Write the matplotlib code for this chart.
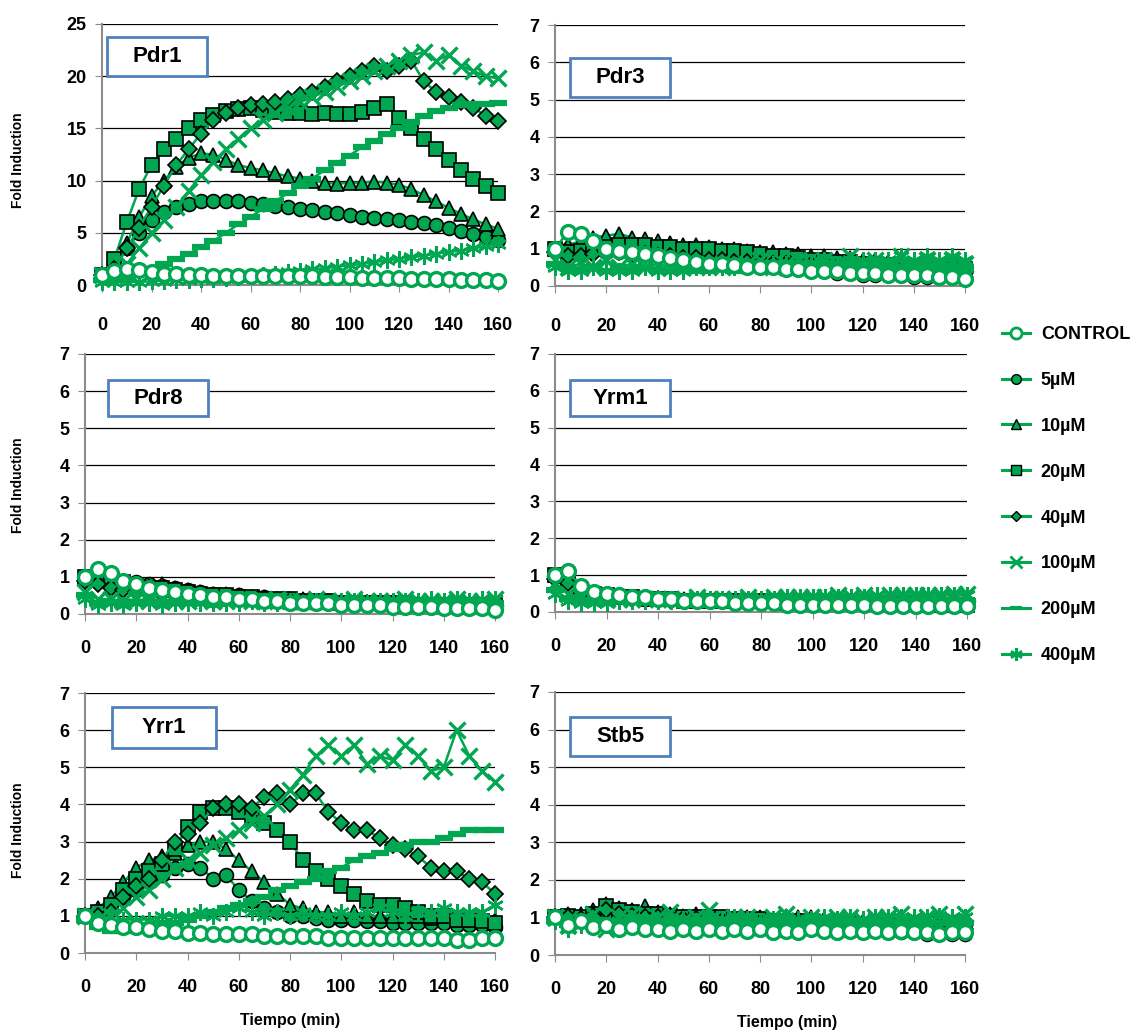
import matplotlib.pyplot as plt
from matplotlib.lines import Line2D
from matplotlib.patches import Rectangle

plt.rcParams['font.family'] = ['Liberation Sans', 'DejaVu Sans']
plt.rcParams['font.weight'] = 'bold'

# sampled every 5 min
time = list(range(0, 161, 5))
labels = ['CONTROL', '5µM', '10µM', '20µM', '40µM', '100µM', '200µM', '400µM']

# ---- Pdr1 ----
pdr1_control = [1.0, 1.3, 1.5, 1.4, 1.2, 1.1, 1.1, 1.0, 1.0, 0.9, 0.9, 0.9, 0.9, 0.9, 0.9, 0.9, 0.9,
                0.9, 0.8, 0.8, 0.8, 0.7, 0.7, 0.7, 0.7, 0.6, 0.6, 0.6, 0.6, 0.5, 0.5, 0.5, 0.4]
pdr1_5 = [1.0, 2.0, 3.5, 5.0, 6.2, 7.0, 7.5, 7.8, 8.0, 8.0, 8.0, 8.0, 7.9, 7.8, 7.6, 7.5, 7.3,
          7.2, 7.0, 6.9, 6.7, 6.5, 6.4, 6.3, 6.2, 6.0, 5.9, 5.7, 5.5, 5.2, 4.9, 4.6, 4.3]
pdr1_10 = [1.0, 2.0, 4.0, 6.5, 8.5, 10.0, 11.3, 12.2, 12.6, 12.5, 12.0, 11.5, 11.2, 11.0, 10.7, 10.4, 10.2,
           10.0, 9.8, 9.7, 9.8, 9.8, 9.9, 9.8, 9.6, 9.2, 8.6, 8.0, 7.4, 6.8, 6.3, 5.8, 5.4]
pdr1_20 = [1.0, 2.5, 6.0, 9.2, 11.5, 13.0, 14.0, 15.0, 15.8, 16.3, 16.7, 16.9, 17.0, 16.8, 16.6, 16.5, 16.5,
           16.4, 16.5, 16.4, 16.4, 16.6, 17.0, 17.3, 16.0, 15.0, 14.0, 13.0, 12.0, 11.0, 10.2, 9.5, 8.8]
pdr1_40 = [1.0, 1.5, 3.5, 5.5, 7.5, 9.5, 11.5, 13.0, 14.5, 15.8, 16.5, 17.0, 17.2, 17.3, 17.5, 17.8, 18.2,
           18.5, 19.0, 19.5, 20.0, 20.5, 21.0, 20.5, 21.0, 21.5, 19.5, 18.5, 18.0, 17.5, 17.0, 16.2, 15.7]
pdr1_100 = [1.0, 1.0, 2.0, 3.5, 5.0, 6.2, 7.5, 9.0, 10.5, 11.8, 13.0, 14.0, 15.0, 15.8, 16.5, 17.0, 17.5,
            18.0, 18.5, 19.0, 19.5, 20.0, 20.5, 21.0, 21.5, 22.0, 22.3, 21.5, 22.0, 21.0, 20.5, 20.0, 19.8]
pdr1_200 = [0.5, 0.6, 0.8, 1.1, 1.5, 2.0, 2.5, 3.0, 3.6, 4.2, 5.0, 5.8, 6.5, 7.3, 8.0, 8.8, 9.5,
            10.2, 11.0, 11.7, 12.4, 13.2, 13.8, 14.5, 15.0, 15.6, 16.2, 16.7, 17.0, 17.2, 17.3, 17.3, 17.4]
pdr1_400 = [0.3, 0.3, 0.3, 0.3, 0.35, 0.4, 0.45, 0.5, 0.55, 0.6, 0.7, 0.8, 0.9, 1.0, 1.1, 1.2, 1.35,
            1.5, 1.6, 1.75, 1.9, 2.0, 2.2, 2.35, 2.5, 2.65, 2.8, 3.0, 3.15, 3.3, 3.5, 3.7, 3.9]

# ---- Pdr3 ----
pdr3_control = [1.0, 1.45, 1.4, 1.2, 1.0, 0.95, 0.9, 0.85, 0.8, 0.75, 0.7, 0.65, 0.6, 0.6, 0.55, 0.5, 0.5,
                0.5, 0.45, 0.45, 0.4, 0.4, 0.4, 0.35, 0.35, 0.35, 0.3, 0.3, 0.3, 0.3, 0.25, 0.25, 0.2]
pdr3_5 = [1.0, 1.0, 1.0, 0.95, 0.9, 0.9, 0.85, 0.85, 0.8, 0.75, 0.7, 0.7, 0.65, 0.6, 0.55, 0.55, 0.5,
          0.5, 0.45, 0.45, 0.4, 0.4, 0.35, 0.35, 0.3, 0.3, 0.3, 0.3, 0.25, 0.25, 0.25, 0.25, 0.25]
pdr3_10 = [1.0, 1.1, 1.2, 1.3, 1.35, 1.4, 1.3, 1.25, 1.2, 1.15, 1.1, 1.1, 1.05, 1.0, 1.0, 0.95, 0.9,
           0.9, 0.85, 0.85, 0.8, 0.8, 0.75, 0.75, 0.7, 0.7, 0.65, 0.65, 0.6, 0.6, 0.55, 0.55, 0.5]
pdr3_20 = [1.0, 0.9, 0.95, 1.0, 1.05, 1.1, 1.1, 1.1, 1.05, 1.05, 1.0, 1.0, 1.0, 0.95, 0.95, 0.9, 0.85,
           0.8, 0.8, 0.75, 0.7, 0.7, 0.65, 0.65, 0.6, 0.6, 0.55, 0.55, 0.5, 0.5, 0.5, 0.45, 0.45]
pdr3_40 = [0.9, 0.8, 0.8, 0.85, 0.9, 0.9, 0.85, 0.85, 0.8, 0.8, 0.75, 0.75, 0.7, 0.7, 0.65, 0.65, 0.6,
           0.6, 0.6, 0.55, 0.55, 0.5, 0.5, 0.5, 0.45, 0.45, 0.45, 0.4, 0.4, 0.4, 0.4, 0.35, 0.35]
pdr3_100 = [0.7, 0.5, 0.6, 0.5, 0.7, 0.5, 0.6, 0.5, 0.6, 0.5, 0.6, 0.5, 0.6, 0.5, 0.6, 0.6, 0.7,
            0.5, 0.6, 0.7, 0.6, 0.7, 0.6, 0.8, 0.6, 0.7, 0.6, 0.8, 0.6, 0.7, 0.6, 0.7, 0.6]
pdr3_200 = [0.6, 0.5, 0.4, 0.5, 0.4, 0.5, 0.4, 0.5, 0.4, 0.4, 0.5, 0.4, 0.4, 0.5, 0.4, 0.5, 0.5,
            0.5, 0.4, 0.5, 0.5, 0.5, 0.5, 0.5, 0.5, 0.5, 0.5, 0.5, 0.5, 0.5, 0.5, 0.5, 0.5]
pdr3_400 = [0.5, 0.4, 0.4, 0.5, 0.4, 0.4, 0.4, 0.5, 0.4, 0.4, 0.4, 0.5, 0.5, 0.5, 0.5, 0.5, 0.5,
            0.6, 0.6, 0.6, 0.6, 0.7, 0.6, 0.7, 0.7, 0.7, 0.7, 0.8, 0.7, 0.8, 0.7, 0.8, 0.7]

# ---- Pdr8 ----
pdr8_control = [1.0, 1.2, 1.1, 0.9, 0.8, 0.7, 0.65, 0.6, 0.55, 0.5, 0.45, 0.45, 0.4, 0.4, 0.35, 0.35, 0.3,
                0.3, 0.3, 0.3, 0.25, 0.25, 0.25, 0.25, 0.2, 0.2, 0.2, 0.2, 0.15, 0.15, 0.15, 0.15, 0.1]
pdr8_5 = [1.0, 1.2, 1.05, 0.9, 0.85, 0.8, 0.75, 0.7, 0.65, 0.6, 0.55, 0.5, 0.5, 0.45, 0.45, 0.4, 0.4,
          0.35, 0.35, 0.35, 0.3, 0.3, 0.3, 0.3, 0.3, 0.25, 0.25, 0.25, 0.25, 0.25, 0.25, 0.2, 0.2]
pdr8_10 = [1.0, 1.1, 1.0, 0.9, 0.8, 0.75, 0.8, 0.7, 0.65, 0.6, 0.55, 0.55, 0.5, 0.45, 0.45, 0.4, 0.4,
           0.4, 0.35, 0.35, 0.35, 0.3, 0.3, 0.3, 0.3, 0.3, 0.3, 0.25, 0.25, 0.25, 0.25, 0.25, 0.25]
pdr8_20 = [1.0, 1.0, 0.9, 0.85, 0.75, 0.7, 0.7, 0.65, 0.6, 0.55, 0.5, 0.5, 0.45, 0.45, 0.4, 0.4, 0.4,
           0.35, 0.35, 0.35, 0.3, 0.3, 0.3, 0.3, 0.3, 0.3, 0.25, 0.25, 0.25, 0.25, 0.25, 0.25, 0.25]
pdr8_40 = [0.9, 0.8, 0.7, 0.65, 0.6, 0.55, 0.55, 0.5, 0.5, 0.45, 0.45, 0.4, 0.4, 0.4, 0.35, 0.35, 0.35,
           0.35, 0.3, 0.3, 0.3, 0.3, 0.3, 0.3, 0.3, 0.25, 0.25, 0.25, 0.25, 0.25, 0.25, 0.25, 0.25]
pdr8_100 = [0.6, 0.4, 0.4, 0.35, 0.4, 0.35, 0.4, 0.35, 0.35, 0.4, 0.35, 0.35, 0.4, 0.35, 0.35, 0.4, 0.35,
            0.35, 0.4, 0.35, 0.35, 0.4, 0.35, 0.35, 0.35, 0.4, 0.35, 0.35, 0.35, 0.4, 0.35, 0.35, 0.4]
pdr8_200 = [0.5, 0.3, 0.3, 0.25, 0.3, 0.3, 0.25, 0.3, 0.3, 0.3, 0.25, 0.3, 0.3, 0.3, 0.25, 0.3, 0.3,
            0.3, 0.3, 0.25, 0.3, 0.3, 0.3, 0.3, 0.3, 0.25, 0.3, 0.3, 0.3, 0.3, 0.3, 0.3, 0.3]
pdr8_400 = [0.4, 0.25, 0.3, 0.25, 0.3, 0.3, 0.25, 0.3, 0.3, 0.3, 0.3, 0.3, 0.3, 0.35, 0.3, 0.3, 0.35,
            0.3, 0.35, 0.3, 0.35, 0.35, 0.3, 0.35, 0.35, 0.35, 0.35, 0.4, 0.35, 0.4, 0.35, 0.4, 0.4]

# ---- Yrm1 ----
yrm1_control = [1.0, 1.1, 0.7, 0.55, 0.5, 0.45, 0.4, 0.4, 0.35, 0.35, 0.3, 0.3, 0.3, 0.3, 0.25, 0.25, 0.25,
                0.25, 0.2, 0.2, 0.2, 0.2, 0.2, 0.2, 0.2, 0.15, 0.15, 0.15, 0.15, 0.15, 0.15, 0.15, 0.15]
yrm1_5 = [1.0, 0.9, 0.6, 0.5, 0.45, 0.4, 0.4, 0.35, 0.35, 0.35, 0.3, 0.3, 0.3, 0.3, 0.3, 0.3, 0.25,
          0.25, 0.25, 0.25, 0.25, 0.25, 0.25, 0.25, 0.25, 0.2, 0.2, 0.2, 0.2, 0.2, 0.2, 0.2, 0.2]
yrm1_10 = [1.0, 0.95, 0.6, 0.5, 0.45, 0.45, 0.4, 0.4, 0.35, 0.35, 0.35, 0.35, 0.3, 0.3, 0.3, 0.3, 0.3,
           0.3, 0.3, 0.3, 0.3, 0.25, 0.25, 0.25, 0.25, 0.25, 0.25, 0.25, 0.25, 0.25, 0.25, 0.25, 0.25]
yrm1_20 = [1.0, 0.9, 0.55, 0.5, 0.45, 0.4, 0.4, 0.35, 0.35, 0.35, 0.3, 0.3, 0.3, 0.3, 0.3, 0.3, 0.3,
           0.3, 0.25, 0.25, 0.25, 0.25, 0.25, 0.25, 0.25, 0.25, 0.25, 0.25, 0.25, 0.2, 0.2, 0.2, 0.2]
yrm1_40 = [0.9, 0.8, 0.5, 0.45, 0.4, 0.4, 0.35, 0.35, 0.35, 0.3, 0.3, 0.3, 0.3, 0.3, 0.3, 0.3, 0.3,
           0.3, 0.3, 0.3, 0.3, 0.3, 0.3, 0.3, 0.3, 0.3, 0.3, 0.3, 0.3, 0.3, 0.3, 0.3, 0.3]
yrm1_100 = [0.8, 0.5, 0.4, 0.35, 0.35, 0.35, 0.35, 0.35, 0.35, 0.35, 0.35, 0.4, 0.35, 0.35, 0.35, 0.4, 0.35,
            0.4, 0.4, 0.4, 0.4, 0.4, 0.45, 0.4, 0.45, 0.4, 0.45, 0.45, 0.45, 0.45, 0.45, 0.5, 0.5]
yrm1_200 = [0.6, 0.35, 0.3, 0.3, 0.3, 0.3, 0.3, 0.3, 0.3, 0.3, 0.3, 0.3, 0.3, 0.3, 0.3, 0.3, 0.3,
            0.3, 0.3, 0.3, 0.3, 0.3, 0.3, 0.3, 0.3, 0.3, 0.3, 0.3, 0.3, 0.3, 0.3, 0.3, 0.3]
yrm1_400 = [0.5, 0.3, 0.25, 0.25, 0.25, 0.3, 0.3, 0.3, 0.3, 0.3, 0.3, 0.35, 0.35, 0.35, 0.35, 0.35, 0.35,
            0.35, 0.4, 0.4, 0.4, 0.4, 0.4, 0.4, 0.4, 0.45, 0.45, 0.45, 0.45, 0.45, 0.45, 0.45, 0.45]

# ---- Yrr1 ----
yrr1_control = [1.0, 0.8, 0.75, 0.7, 0.7, 0.65, 0.6, 0.6, 0.55, 0.55, 0.5, 0.5, 0.5, 0.5, 0.45, 0.45, 0.45,
                0.45, 0.45, 0.4, 0.4, 0.4, 0.4, 0.4, 0.4, 0.4, 0.4, 0.4, 0.4, 0.35, 0.35, 0.4, 0.4]
yrr1_5 = [1.0, 1.1, 1.3, 1.5, 1.7, 1.9, 2.1, 2.3, 2.4, 2.3, 2.0, 2.1, 1.7, 1.4, 1.2, 1.1, 1.0,
          1.0, 0.95, 0.9, 0.9, 0.9, 0.85, 0.85, 0.8, 0.8, 0.8, 0.8, 0.8, 0.75, 0.75, 0.75, 0.7]
yrr1_10 = [1.0, 1.2, 1.5, 1.9, 2.3, 2.5, 2.6, 2.7, 2.9, 3.0, 3.0, 2.8, 2.5, 2.2, 1.9, 1.6, 1.3,
           1.2, 1.1, 1.1, 1.0, 1.1, 1.0, 1.0, 1.0, 1.0, 1.0, 0.95, 1.0, 0.9, 0.9, 0.9, 0.9]
yrr1_20 = [1.0, 1.1, 1.3, 1.7, 2.0, 2.2, 2.4, 2.8, 3.4, 3.8, 3.9, 3.9, 3.8, 3.7, 3.5, 3.3, 3.0,
           2.5, 2.2, 2.0, 1.8, 1.6, 1.4, 1.3, 1.3, 1.2, 1.1, 1.0, 1.0, 0.9, 0.9, 0.85, 0.8]
yrr1_40 = [1.0, 1.0, 1.1, 1.5, 1.8, 2.0, 2.5, 3.0, 3.2, 3.5, 3.9, 4.0, 4.0, 3.9, 4.2, 4.3, 4.0,
           4.3, 4.3, 3.8, 3.5, 3.3, 3.3, 3.1, 2.9, 2.8, 2.6, 2.3, 2.2, 2.2, 2.0, 1.9, 1.6]
yrr1_100 = [1.0, 0.9, 1.0, 1.2, 1.5, 1.7, 2.0, 2.3, 2.5, 2.7, 2.9, 3.1, 3.3, 3.5, 3.7, 4.0, 4.4,
            4.8, 5.3, 5.6, 5.3, 5.6, 5.1, 5.3, 5.2, 5.6, 5.3, 4.9, 5.0, 6.0, 5.3, 4.9, 4.6]
yrr1_200 = [0.9, 0.7, 0.6, 0.6, 0.7, 0.7, 0.8, 0.8, 0.9, 1.0, 1.1, 1.2, 1.3, 1.4, 1.5, 1.7, 1.8,
            1.9, 2.0, 2.2, 2.3, 2.5, 2.6, 2.7, 2.8, 2.9, 3.0, 3.0, 3.1, 3.2, 3.3, 3.3, 3.3]
yrr1_400 = [1.0, 0.8, 0.8, 0.9, 0.9, 0.9, 1.0, 1.0, 1.0, 1.1, 1.0, 1.1, 1.2, 1.1, 1.0, 1.1, 1.0,
            1.1, 1.0, 1.0, 1.1, 1.0, 1.1, 1.2, 1.1, 1.0, 1.1, 1.1, 1.2, 1.1, 1.1, 1.1, 1.3]

# ---- Stb5 ----
stb5_control = [1.0, 0.8, 0.9, 0.75, 0.8, 0.7, 0.75, 0.7, 0.7, 0.65, 0.7, 0.65, 0.7, 0.65, 0.7, 0.65, 0.7,
                0.6, 0.65, 0.6, 0.7, 0.65, 0.6, 0.65, 0.6, 0.65, 0.6, 0.65, 0.6, 0.6, 0.55, 0.6, 0.6]
stb5_5 = [1.0, 1.05, 1.0, 1.05, 1.1, 1.0, 1.05, 0.95, 1.0, 0.95, 0.95, 0.9, 0.9, 0.9, 0.85, 0.85, 0.85,
          0.8, 0.8, 0.8, 0.75, 0.75, 0.7, 0.7, 0.7, 0.65, 0.65, 0.6, 0.6, 0.55, 0.55, 0.55, 0.55]
stb5_10 = [1.0, 1.1, 1.1, 1.2, 1.35, 1.25, 1.2, 1.3, 1.15, 1.1, 1.05, 1.1, 1.05, 1.0, 1.0, 1.0, 1.0,
           0.95, 1.05, 1.0, 1.0, 0.95, 0.95, 0.9, 0.9, 0.9, 0.9, 0.85, 0.85, 0.8, 0.8, 0.8, 0.8]
stb5_20 = [1.0, 1.05, 1.0, 1.1, 1.3, 1.2, 1.15, 1.1, 1.1, 1.05, 1.0, 1.0, 1.0, 1.0, 0.95, 0.95, 0.95,
           0.9, 0.9, 0.9, 0.9, 0.85, 0.85, 0.85, 0.8, 0.8, 0.8, 0.8, 0.75, 0.75, 0.75, 0.7, 0.7]
stb5_40 = [1.0, 1.0, 0.95, 1.05, 1.2, 1.1, 1.05, 1.0, 1.0, 1.0, 0.95, 0.95, 0.95, 0.9, 0.9, 0.9, 0.85,
           0.85, 0.85, 0.85, 0.8, 0.8, 0.8, 0.8, 0.75, 0.75, 0.75, 0.75, 0.7, 0.7, 0.7, 0.7, 0.7]
stb5_100 = [1.0, 0.8, 0.9, 1.1, 0.7, 1.0, 1.1, 0.9, 1.0, 1.15, 0.9, 1.0, 1.2, 0.9, 1.0, 1.0, 0.9,
            1.0, 1.1, 0.9, 1.0, 0.9, 1.0, 1.0, 0.9, 1.0, 1.0, 1.1, 0.9, 1.0, 1.1, 0.9, 1.1]
stb5_200 = [0.9, 0.8, 0.85, 0.9, 0.9, 0.85, 0.9, 0.9, 0.85, 0.9, 0.9, 0.9, 0.85, 0.9, 0.85, 0.9, 0.85,
            0.85, 0.9, 0.85, 0.85, 0.85, 0.9, 0.85, 0.85, 0.85, 0.85, 0.85, 0.85, 0.85, 0.85, 0.85, 0.85]
stb5_400 = [0.9, 0.7, 0.8, 0.9, 0.8, 0.9, 0.9, 0.95, 0.9, 0.9, 0.95, 0.9, 0.9, 0.95, 1.0, 0.95, 0.9,
            0.95, 1.0, 0.95, 0.95, 1.0, 0.95, 1.0, 0.95, 1.0, 1.0, 1.0, 1.0, 1.0, 1.05, 1.0, 1.0]

green = '#00A650'
styles = [
    dict(marker='o', mfc='white', mec=green, mew=2.4, ms=10),
    dict(marker='o', mfc=green, mec='black', mew=1.2, ms=10),
    dict(marker='^', mfc=green, mec='black', mew=1.2, ms=10),
    dict(marker='s', mfc=green, mec='black', mew=1.2, ms=9.5),
    dict(marker='D', mfc=green, mec='black', mew=1.2, ms=8.5),
    dict(marker='x', mfc=green, mec=green, mew=2.4, ms=11),
    dict(marker='_', mfc=green, mec=green, mew=4.5, ms=13),
    dict(marker=(6, 2, 0), mfc=green, mec=green, mew=1.8, ms=12),
]
legend_styles = [
    dict(marker='o', mfc='white', mec=green, mew=2, ms=8),
    dict(marker='o', mfc=green, mec='black', mew=1, ms=7),
    dict(marker='^', mfc=green, mec='black', mew=1, ms=7),
    dict(marker='s', mfc=green, mec='black', mew=1, ms=7),
    dict(marker='D', mfc=green, mec='black', mew=1, ms=5.5),
    dict(marker='x', mfc=green, mec=green, mew=2, ms=9),
    dict(marker='_', mfc=green, mec=green, mew=3, ms=9),
    dict(marker=(6, 2, 0), mfc=green, mec=green, mew=1.8, ms=9),
]

W, H = 1138, 1032
fig = plt.figure(figsize=(W / 100, H / 100), dpi=100)

# name, series, ymax, ystep, box (x0, y0, x1, y1), axes (left, top, right, bottom) in px
panels = [
    ('Pdr1', [pdr1_control, pdr1_5, pdr1_10, pdr1_20, pdr1_40, pdr1_100, pdr1_200, pdr1_400], 25, 5,
     (107, 37, 207, 76), (102, 24, 498, 285), 18),
    ('Pdr3', [pdr3_control, pdr3_5, pdr3_10, pdr3_20, pdr3_40, pdr3_100, pdr3_200, pdr3_400], 7, 1,
     (570, 58, 670, 97), (555, 25, 965, 286), 18),
    ('Pdr8', [pdr8_control, pdr8_5, pdr8_10, pdr8_20, pdr8_40, pdr8_100, pdr8_200, pdr8_400], 7, 1,
     (108, 380, 208, 416), (85, 354, 495, 614), 14),
    ('Yrm1', [yrm1_control, yrm1_5, yrm1_10, yrm1_20, yrm1_40, yrm1_100, yrm1_200, yrm1_400], 7, 1,
     (570, 380, 670, 416), (555, 354, 967, 612), 14),
    ('Yrr1', [yrr1_control, yrr1_5, yrr1_10, yrr1_20, yrr1_40, yrr1_100, yrr1_200, yrr1_400], 7, 1,
     (112, 707, 216, 748), (85, 693, 495, 953), 14),
    ('Stb5', [stb5_control, stb5_5, stb5_10, stb5_20, stb5_40, stb5_100, stb5_200, stb5_400], 7, 1,
     (570, 717, 670, 756), (555, 692, 965, 955), 14),
]

for name, series, ymax, ystep, box, pos, xpad in panels:
    l, t, r, b = pos
    ax = fig.add_axes([l / W, 1 - b / H, (r - l) / W, (b - t) / H])
    order = list(range(1, 8)) + [0]
    for k, i in enumerate(order):
        ax.plot(time, series[i], color=green, lw=1.8, clip_on=False, zorder=3 + k, **styles[i])
    ax.set_xlim(0, 160)
    ax.set_ylim(0, ymax)
    ax.set_xticks(range(0, 161, 20))
    ax.set_yticks(range(0, ymax + 1, ystep))
    ax.yaxis.grid(True, color='black', lw=0.9)
    ax.set_axisbelow(True)
    for s in ['top', 'right']:
        ax.spines[s].set_visible(False)
    for s in ['left', 'bottom']:
        ax.spines[s].set_color('#8c8c8c')
        ax.spines[s].set_linewidth(1.5)
    ax.tick_params(axis='x', length=5, color='#8c8c8c', pad=xpad, labelsize=13)
    ax.tick_params(axis='y', length=5, color='#8c8c8c', pad=6, labelsize=13)
    for lab in ax.get_xticklabels() + ax.get_yticklabels():
        lab.set_fontweight('bold')

    x0, y0, x1, y1 = box
    fig.add_artist(Rectangle((x0 / W, 1 - y1 / H), (x1 - x0) / W, (y1 - y0) / H,
                             transform=fig.transFigure, facecolor='white',
                             edgecolor='#4F81BD', lw=2, zorder=20))
    fig.text((x0 + x1) / 2 / W, 1 - (y0 + y1) / 2 / H, name, ha='center', va='center',
             fontsize=16, fontweight='bold', zorder=21)

for yc in [160, 485, 830]:
    fig.text(18 / W, 1 - yc / H, 'Fold Induction', rotation=90, ha='center', va='center',
             fontsize=10, fontweight='bold')
fig.text(290 / W, 1 - 1020 / H, 'Tiempo (min)', ha='center', va='center', fontsize=11.5, fontweight='bold')
fig.text(787 / W, 1 - 1022 / H, 'Tiempo (min)', ha='center', va='center', fontsize=11.5, fontweight='bold')

handles = [Line2D([], [], color=green, lw=2.2, **st) for st in legend_styles]
leg = fig.legend(handles, labels, loc='upper left', bbox_to_anchor=(1002 / W, 1 - 326 / H),
                 frameon=False, prop={'weight': 'bold', 'size': 13}, labelspacing=1.6,
                 handlelength=1.55, handletextpad=0.6, borderpad=0, borderaxespad=0)

fig.savefig('out.png', dpi=100)
